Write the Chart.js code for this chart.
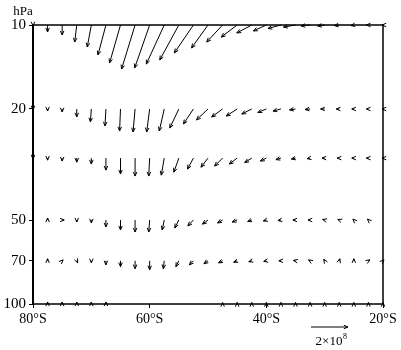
<!DOCTYPE html>
<html>
<head>
<meta charset="utf-8">
<script src="https://cdn.jsdelivr.net/npm/chart.js@4.4.1/dist/chart.umd.min.js"></script>
<style>
  html, body { margin: 0; padding: 0; background: #fff; }
</style>
</head>
<body>
<canvas id="c" width="401" height="350"></canvas>
<script>
// grid columns (latitude, negative = south)
const lats = [-80, -77.5, -75, -72.5, -70, -67.5, -65, -62.5, -60, -57.5, -55, -52.5, -50,
              -47.5, -45, -42.5, -40, -37.5, -35, -32.5, -30, -27.5, -25, -22.5, -20];
const levels = [10, 20, 30, 50, 70, 100];

// meridional component (x1e8), positive northward
const u10  = [0, 0, 0, -0.11, -0.22, -0.43, -0.59, -0.73, -0.81, -0.97, -1.03, -1.03, -0.89, -0.86, -0.86, -0.81, -0.70, -0.70, -0.65, -0.49, -0.38, -0.27, -0.16, -0.11, -0.05];
const u20  = [0, 0, 0, 0, -0.05, -0.05, -0.05, -0.11, -0.16, -0.27, -0.49, -0.54, -0.62, -0.59, -0.59, -0.54, -0.46, -0.43, -0.32, -0.27, -0.22, -0.16, -0.11, -0.11, -0.05];
const u30  = [0, 0, 0, 0, 0, 0, 0, 0, -0.05, -0.16, -0.27, -0.32, -0.38, -0.43, -0.43, -0.38, -0.32, -0.27, -0.22, -0.16, -0.14, -0.11, -0.11, -0.11, -0.05];
const u50  = [0, 0, 0.11, 0, 0, 0, 0, 0, -0.05, -0.11, -0.22, -0.30, -0.30, -0.27, -0.27, -0.22, -0.16, -0.16, -0.14, -0.11, -0.11, -0.08, -0.05, -0.05, 0];
const u70  = [0, 0, 0.05, 0.05, 0, 0, 0, 0, 0, -0.05, -0.16, -0.22, -0.22, -0.22, -0.19, -0.16, -0.14, -0.11, -0.11, -0.08, -0.05, 0.03, 0, 0.08, 0.05];
const u100 = [0, 0, 0, 0, 0, 0, 0, 0, 0, 0, 0, 0, 0, 0, 0, 0, 0, 0, 0, 0, 0, 0, 0, 0, 0];

// vertical component (x1e8), positive toward higher pressure (down)
const w10  = [0.05, 0.38, 0.54, 0.92, 1.19, 1.62, 2.05, 2.38, 2.32, 2.11, 1.89, 1.51, 1.24, 0.92, 0.65, 0.43, 0.32, 0.19, 0.11, 0.05, 0.05, 0.03, 0.03, 0, 0];
const w20  = [0.05, 0.11, 0.16, 0.43, 0.70, 0.92, 1.19, 1.24, 1.24, 1.19, 1.03, 0.81, 0.59, 0.43, 0.38, 0.27, 0.19, 0.11, 0.05, 0.03, 0, 0, 0, 0, 0];
const w30  = [0.05, 0.11, 0.16, 0.22, 0.32, 0.65, 0.86, 0.97, 0.97, 0.92, 0.76, 0.59, 0.49, 0.43, 0.32, 0.24, 0.16, 0.08, 0.05, 0.03, 0, 0, 0, 0, 0];
const w50  = [0, -0.11, 0, 0.11, 0.16, 0.38, 0.54, 0.65, 0.65, 0.54, 0.43, 0.32, 0.22, 0.16, 0.11, 0.08, 0.05, 0.03, 0, 0, -0.03, -0.03, -0.05, -0.05, 0];
const w70  = [0, -0.11, -0.05, 0.11, 0.11, 0.22, 0.32, 0.43, 0.49, 0.43, 0.32, 0.22, 0.16, 0.11, 0.08, 0.05, 0.03, 0, -0.02, -0.05, -0.08, -0.11, -0.11, -0.05, -0.05];
const w100 = [0, -0.11, -0.11, -0.11, -0.11, -0.11, 0, 0, 0, 0, 0, 0, 0, -0.08, -0.08, -0.08, -0.08, -0.08, -0.08, -0.08, -0.08, -0.08, -0.08, -0.08, -0.08];

const xTicks = [-80, -60, -40, -20];
const yTicks = [10, 20, 50, 70, 100];
const refValue = 2; // reference vector, x1e8

const uRows = [u10, u20, u30, u50, u70, u100];
const wRows = [w10, w20, w30, w50, w70, w100];

const ARROW_PX = 18.5; // pixels per 1e8
const FONT = 'Liberation Serif';

const points = [];
levels.forEach((p, i) => {
  lats.forEach((lat, j) => {
    points.push({ x: lat, y: p, u: uRows[i][j], w: wRows[i][j] });
  });
});

function drawArrow(ctx, x0, y0, x1, y1) {
  const ang = Math.atan2(y1 - y0, x1 - x0);
  const hl = 4.5, hw = 0.4;
  ctx.beginPath();
  ctx.moveTo(x0, y0);
  ctx.lineTo(x1, y1);
  ctx.moveTo(x1 - hl * Math.cos(ang - hw), y1 - hl * Math.sin(ang - hw));
  ctx.lineTo(x1, y1);
  ctx.lineTo(x1 - hl * Math.cos(ang + hw), y1 - hl * Math.sin(ang + hw));
  ctx.stroke();
}

const arrowPlugin = {
  id: 'arrows',
  afterDatasetsDraw(chart) {
    const { ctx, chartArea: a, scales } = chart;
    const xs = scales.x, ys = scales.y;
    ctx.save();
    ctx.strokeStyle = '#000';
    ctx.lineWidth = 1;
    chart.data.datasets[0].data.forEach(p => {
      if (p.u === 0 && p.w === 0) return;
      const x0 = xs.getPixelForValue(p.x);
      const y0 = ys.getPixelForValue(p.y);
      drawArrow(ctx, x0, y0, x0 + p.u * ARROW_PX, y0 + p.w * ARROW_PX);
    });

    // frame
    ctx.lineWidth = 1.5;
    ctx.strokeRect(a.left, a.top, a.right - a.left, a.bottom - a.top);
    ctx.lineWidth = 2;
    ctx.beginPath();
    ctx.moveTo(a.left, a.top);
    ctx.lineTo(a.left, a.bottom);
    ctx.stroke();

    // reference vector
    const rx1 = a.right - 35, ry = a.bottom + 23;
    ctx.lineWidth = 1;
    drawArrow(ctx, rx1 - refValue * ARROW_PX, ry, rx1, ry);
    ctx.fillStyle = '#000';
    ctx.font = '13px ' + FONT;
    ctx.textBaseline = 'alphabetic';
    ctx.textAlign = 'left';
    const lbl = refValue + '\u00d710';
    const tw = ctx.measureText(lbl).width;
    const lx = rx1 - refValue * ARROW_PX / 2 - (tw + 5) / 2 + 2;
    ctx.fillText(lbl, lx, ry + 18);
    ctx.font = '8px ' + FONT;
    ctx.fillText('8', lx + tw + 0.5, ry + 12);

    // unit label
    ctx.font = '13px ' + FONT;
    ctx.textAlign = 'center';
    ctx.fillText('hPa', 23, 15);
    ctx.restore();
  }
};

new Chart(document.getElementById('c'), {
  type: 'scatter',
  data: {
    datasets: [{
      data: points,
      pointRadius: 0,
      pointHoverRadius: 0,
      showLine: false
    }]
  },
  options: {
    responsive: false,
    animation: false,
    devicePixelRatio: 1,
    layout: { padding: { top: 25, right: 18, left: 0, bottom: 0 } },
    plugins: { legend: { display: false }, tooltip: { enabled: false } },
    scales: {
      x: {
        type: 'linear',
        min: -80,
        max: -20,
        afterBuildTicks: s => { s.ticks = xTicks.map(v => ({ value: v })); },
        afterFit: s => { s.height = 46; },
        ticks: {
          color: '#000',
          font: { family: FONT, size: 14 },
          padding: 3,
          maxRotation: 0,
          callback: v => Math.abs(v) + '\u00b0S'
        },
        grid: { drawOnChartArea: false, drawTicks: true, tickLength: 4, color: '#000' },
        border: { display: false }
      },
      y: {
        type: 'logarithmic',
        reverse: true,
        min: 10,
        max: 100,
        afterBuildTicks: s => { s.ticks = yTicks.map(v => ({ value: v })); },
        afterFit: s => { s.width = 33; },
        ticks: {
          color: '#000',
          font: { family: FONT, size: 15 },
          padding: 3,
          callback: v => String(v)
        },
        grid: { drawOnChartArea: false, drawTicks: true, tickLength: 4, color: '#000' },
        border: { display: false }
      }
    }
  },
  plugins: [arrowPlugin]
});
</script>
</body>
</html>
